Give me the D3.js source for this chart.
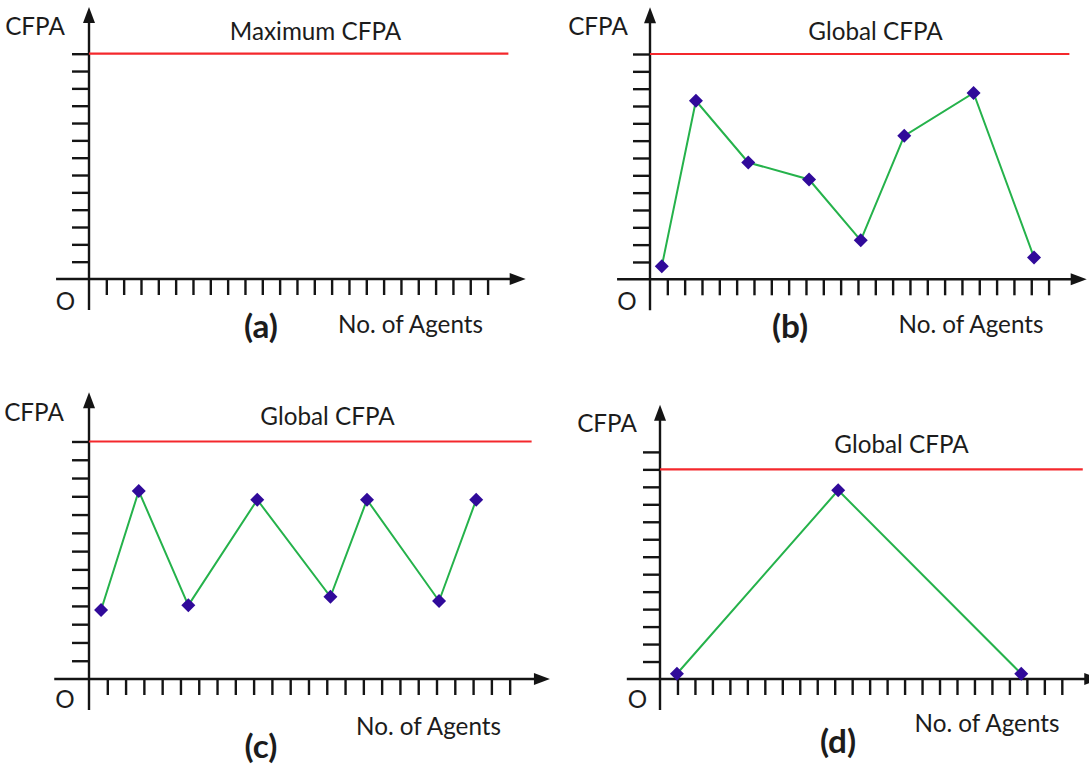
<!DOCTYPE html>
<html><head><meta charset="utf-8">
<script src="https://cdn.jsdelivr.net/npm/d3@7"></script>
<style>html,body{margin:0;padding:0;background:#fff;} svg{display:block}</style>
</head><body>
<svg id="chart" width="1089" height="765"></svg>
<script>
// ---------- data ----------
const xTickValues = [1,2,3,4,5,6,7,8,9,10,11,12,13,14,15,16,17,18,19,20,21,22,23];
const yTickValues = [1,2,3,4,5,6,7,8,9,10,11,12,13];
const panelNames = ["(a)", "(b)", "(c)", "(d)"];
const refTitles = ["Maximum CFPA", "Global CFPA", "Global CFPA", "Global CFPA"];
const refLevels = [13, 13, 13, 12];
const yAxisLabel = "CFPA";
const xAxisLabel = "No. of Agents";
const originLabel = "O";

const seriesA_x = [];
const seriesA_y = [];
const seriesB_x = [0.68, 2.65, 5.67, 9.18, 12.16, 14.67, 18.67, 22.16];
const seriesB_y = [0.75, 10.3, 6.74, 5.76, 2.25, 8.28, 10.75, 1.26];
const seriesC_x = [0.66, 2.72, 5.43, 9.2, 13.2, 15.2, 19.14, 21.17];
const seriesC_y = [3.78, 10.29, 4.03, 9.81, 4.5, 9.81, 4.27, 9.81];
const seriesD_x = [0.97, 10.2, 20.68];
const seriesD_y = [0.3, 10.8, 0.3];

const seriesX = [seriesA_x, seriesB_x, seriesC_x, seriesD_x];
const seriesY = [seriesA_y, seriesB_y, seriesC_y, seriesD_y];

// ---------- layout ----------
const layout = [
  {ox:89,  oy:279,   ux:17.33, uy:17.33, cfpa:[8,62,35],    title:[230,401,40], o:[58,73,310],  name:[261,338], xlab:[338,483,333]},
  {ox:650, oy:279.3, ux:17.33, uy:17.33, cfpa:[571,625,35], title:[810,941,40], o:[619,635,310], name:[790,338], xlab:[899,1043,333]},
  {ox:89,  oy:679,   ux:18.29, uy:18.27, cfpa:[7,61,421],   title:[262,393,425], o:[57,73,708], name:[261,758], xlab:[356,501,735]},
  {ox:660, oy:679,   ux:17.47, uy:17.47, cfpa:[580,634,432], title:[836,967,453], o:[630,645,708], name:[838,753], xlab:[914,1060,732]}
];
const FONT = "Lato, 'Open Sans', sans-serif";
const TEXT_COLOR = "#1c1c1c";
const AXIS_COLOR = "#141414";

const svg = d3.select("#chart");

// common font size derived from the width of "No. of Agents"
const probe = svg.append("text").attr("font-family", FONT).attr("font-size", 26).text(xAxisLabel);
const baseFS = 26 * (layout[0].xlab[1] - layout[0].xlab[0]) / probe.node().getComputedTextLength();
probe.remove();
const probeB = svg.append("text").attr("font-family", FONT).attr("font-weight", "bold").attr("font-size", 26).text("(a)");
const boldFS = 26 * 34 / probeB.node().getComputedTextLength();
probeB.remove();

function addText(g, str, cx, baseline, opts) {
  opts = opts || {};
  return g.append("text")
    .attr("font-family", FONT)
    .attr("font-weight", opts.bold ? "bold" : "normal")
    .attr("font-size", opts.bold ? boldFS : baseFS)
    .attr("fill", TEXT_COLOR)
    .attr("text-anchor", "middle")
    .attr("x", cx).attr("y", baseline)
    .text(str);
}

layout.forEach((L, i) => {
  const g = svg.append("g");
  const x = d3.scaleLinear().domain([0, 1]).range([L.ox, L.ox + L.ux]);
  const y = d3.scaleLinear().domain([0, 1]).range([L.oy, L.oy - L.uy]);

  const xAxis = d3.axisBottom(x).tickValues(xTickValues).tickSize(16).tickFormat("");
  const gx = g.append("g").attr("transform", `translate(0,${L.oy})`).call(xAxis);
  gx.select(".domain").remove();
  gx.selectAll(".tick line").attr("stroke", AXIS_COLOR).attr("stroke-width", 2.4);

  const yAxis = d3.axisLeft(y).tickValues(yTickValues).tickSize(17).tickFormat("");
  const gy = g.append("g").attr("transform", `translate(${L.ox},0)`).call(yAxis);
  gy.select(".domain").remove();
  gy.selectAll(".tick line").attr("stroke", AXIS_COLOR).attr("stroke-width", 2.4);

  const xStart = x(-1.9), xTip = x(25.2);
  const yBottom = L.oy + 31, yTip = y(15.7);
  g.append("line").attr("x1", xStart).attr("x2", xTip - 8).attr("y1", L.oy).attr("y2", L.oy)
    .attr("stroke", AXIS_COLOR).attr("stroke-width", 2.4);
  g.append("line").attr("x1", L.ox).attr("x2", L.ox).attr("y1", yBottom).attr("y2", yTip + 8)
    .attr("stroke", AXIS_COLOR).attr("stroke-width", 2.4);
  g.append("path").attr("d", `M${xTip},${L.oy} L${xTip-16},${L.oy-6} L${xTip-16},${L.oy+6} Z`).attr("fill", AXIS_COLOR);
  g.append("path").attr("d", `M${L.ox},${yTip} L${L.ox-6},${yTip+16} L${L.ox+6},${yTip+16} Z`).attr("fill", AXIS_COLOR);

  g.append("line").attr("x1", x(0)).attr("x2", x(24.2))
    .attr("y1", y(refLevels[i])).attr("y2", y(refLevels[i]))
    .attr("stroke", "#f4282c").attr("stroke-width", 2.2);

  const pts = seriesX[i].map((v, k) => [v, seriesY[i][k]]);
  if (pts.length) {
    const line = d3.line().x(d => x(d[0])).y(d => y(d[1]));
    g.append("path").datum(pts).attr("d", line).attr("fill", "none")
      .attr("stroke", "#25b24b").attr("stroke-width", 2);
    g.selectAll(".pt").data(pts).enter().append("path")
      .attr("d", d3.symbol().type(d3.symbolSquare).size(98))
      .attr("transform", d => `translate(${x(d[0])},${y(d[1])}) rotate(45)`)
      .attr("fill", "#300a9a");
  }

  addText(g, yAxisLabel, (L.cfpa[0] + L.cfpa[1]) / 2, L.cfpa[2]);
  addText(g, refTitles[i], (L.title[0] + L.title[1]) / 2, L.title[2]);
  addText(g, originLabel, (L.o[0] + L.o[1]) / 2, L.o[2]);
  addText(g, xAxisLabel, (L.xlab[0] + L.xlab[1]) / 2, L.xlab[2]);
  addText(g, panelNames[i], L.name[0], L.name[1], {bold: true});
});
</script>
</body></html>
